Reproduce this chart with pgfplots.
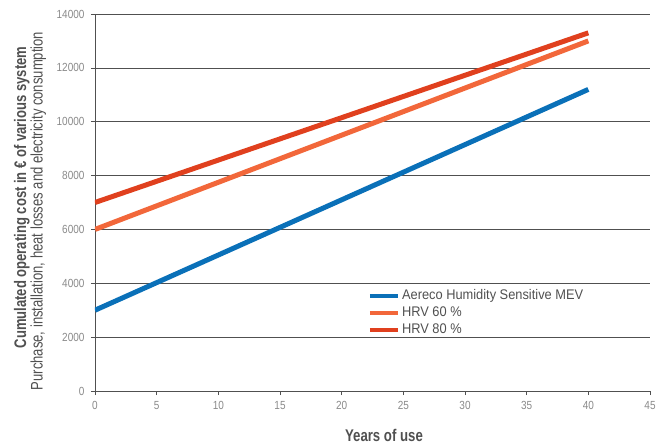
\documentclass[border=0pt]{standalone}
\usepackage{pgfplots}
\pgfplotsset{compat=1.18}
\usepackage{fontspec}
\setmainfont{Liberation Sans}[FakeStretch=0.85]
\newfontfamily\labfont{Liberation Sans}[FakeStretch=0.78]
\newfontfamily\legfont{Liberation Sans}[FakeStretch=0.92]
\definecolor{cblue}{HTML}{0A70B8}
\definecolor{corange}{HTML}{F2673A}
\definecolor{cred}{HTML}{E0401E}
\definecolor{tgray}{HTML}{8A8A8A}
\definecolor{agray}{HTML}{505050}
\begin{document}
\begin{tikzpicture}
\begin{axis}[
  scale only axis,
  width=555bp, height=377bp,
  xmin=0, xmax=45, ymin=0, ymax=14000,
  xtick={0,5,...,45},
  ytick={0,2000,...,14000},
  scaled ticks=false,
  axis x line*=bottom,
  axis y line*=left,
  axis line style={agray, line width=0.8pt, -},
  ymajorgrids,
  grid style={agray, line width=0.7pt},
  tick style={agray, line width=0.6pt},
  tick align=outside,
  major tick length=4bp,
  /pgf/number format/assume math mode=true,
  /pgf/number format/1000 sep={},
  /pgf/number format/fixed,
  tick label style={font=\fontsize{11.8}{13}\selectfont, text=tgray},
  yticklabel style={xshift=-3bp},
  xticklabel style={yshift=-3bp},
  xlabel={\textbf{Years of use}},
  xlabel style={font=\labfont\fontsize{17}{18}\selectfont, text=agray,
    at={(axis description cs:0.5207,0)}, anchor=base, yshift=-50bp},
  ylabel={\hspace*{27bp}\textbf{Cumulated operating cost in € of various system}\\Purchase, installation, heat losses and electricity consumption},
  ylabel style={font=\labfont\fontsize{16.8}{15}\selectfont, text=agray, align=center,
    at={(axis description cs:-0.117,0.4775)}, anchor=center},
  legend style={at={(axis cs:22.1,3843)}, anchor=north west, draw=none, fill=none,
    inner sep=0pt, outer sep=0pt,
    font=\legfont\fontsize{14}{15}\selectfont, text=agray, row sep=0pt,
    nodes={text height=10bp, text depth=3bp, inner sep=2bp},
    /tikz/every odd column/.append style={column sep=0bp}},
  legend cell align=left,
  legend image code/.code={\draw[#1, line width=4.5bp] (0bp,0bp) -- (28bp,0bp);},
]
\addplot[cblue, line width=5bp] coordinates {(0,3000) (40,11200)};
\addlegendentry{Aereco Humidity Sensitive MEV}
\addplot[corange, line width=5bp] coordinates {(0,6000) (40,13000)};
\addlegendentry{HRV 60 \%}
\addplot[cred, line width=5bp] coordinates {(0,7000) (40,13300)};
\addlegendentry{HRV 80 \%}
\end{axis}
\pgfresetboundingbox
\useasboundingbox ([xshift=-95bp,yshift=-55bp]current axis.south west) rectangle ([xshift=11bp,yshift=14bp]current axis.north east);
\end{tikzpicture}
\end{document}
